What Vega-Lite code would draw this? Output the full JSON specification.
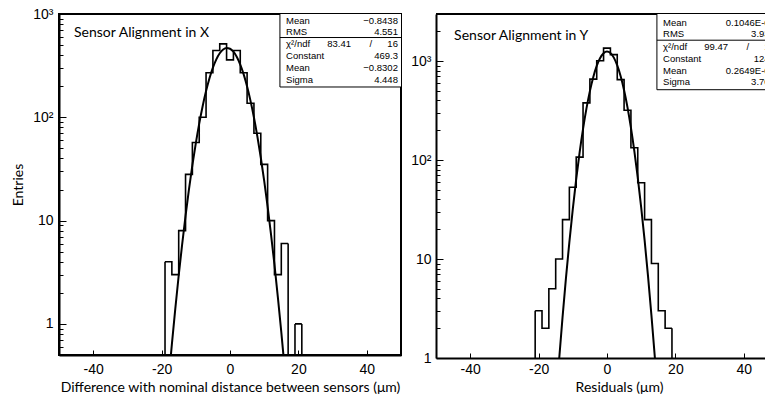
{
  "$schema": "https://vega.github.io/schema/vega-lite/v6.json",
  "background": "white",
  "padding": {"left": 10, "top": 6, "right": 0, "bottom": 0},
  "bounds": "flush",
  "spacing": 35,
  "config": {
    "view": {"stroke": "black", "strokeWidth": 2},
    "axis": {
      "grid": false,
      "domainColor": "black",
      "domainWidth": 2,
      "tickColor": "black",
      "tickWidth": 1,
      "labelColor": "black",
      "labelFont": "Liberation Sans",
      "labelFontSize": 14,
      "titleColor": "black",
      "titleFont": "Lato",
      "titleFontSize": 14,
      "titleFontWeight": "normal"
    },
    "text": {"font": "Liberation Sans", "fontSize": 9.5, "color": "black"}
  },
  "datasets": {
    "left_bins": [
      {"lo": -19, "hi": -17, "y": 4},
      {"lo": -17, "hi": -15, "y": 3},
      {"lo": -15, "hi": -13, "y": 8},
      {"lo": -13, "hi": -11, "y": 28},
      {"lo": -11, "hi": -9, "y": 57},
      {"lo": -9, "hi": -7, "y": 100},
      {"lo": -7, "hi": -5, "y": 270},
      {"lo": -5, "hi": -3, "y": 444},
      {"lo": -3, "hi": -1, "y": 514},
      {"lo": -1, "hi": 1, "y": 360},
      {"lo": 1, "hi": 3, "y": 444},
      {"lo": 3, "hi": 5, "y": 270},
      {"lo": 5, "hi": 7, "y": 137},
      {"lo": 7, "hi": 9, "y": 70},
      {"lo": 9, "hi": 11, "y": 35},
      {"lo": 11, "hi": 13, "y": 10},
      {"lo": 13, "hi": 15, "y": 3},
      {"lo": 15, "hi": 17, "y": 6},
      {"lo": 17, "hi": 19, "y": null},
      {"lo": 19, "hi": 21, "y": 1}
    ],
    "right_bins": [
      {"lo": -21, "hi": -19, "y": 3},
      {"lo": -19, "hi": -17, "y": 2},
      {"lo": -17, "hi": -15, "y": 5},
      {"lo": -15, "hi": -13, "y": 10},
      {"lo": -13, "hi": -11, "y": 25},
      {"lo": -11, "hi": -9, "y": 53},
      {"lo": -9, "hi": -7, "y": 107},
      {"lo": -7, "hi": -5, "y": 378},
      {"lo": -5, "hi": -3, "y": 656},
      {"lo": -3, "hi": -1, "y": 1007},
      {"lo": -1, "hi": 1, "y": 1350},
      {"lo": 1, "hi": 3, "y": 1160},
      {"lo": 3, "hi": 5, "y": 648},
      {"lo": 5, "hi": 7, "y": 318},
      {"lo": 7, "hi": 9, "y": 133},
      {"lo": 9, "hi": 11, "y": 59},
      {"lo": 11, "hi": 13, "y": 25},
      {"lo": 13, "hi": 15, "y": 9},
      {"lo": 15, "hi": 17, "y": 3},
      {"lo": 17, "hi": 19, "y": 2}
    ],
    "left_fit": [
      {"x": -18, "y": 0.273}, {"x": -17, "y": 0.634}, {"x": -16, "y": 1.40}, {"x": -15, "y": 2.94},
      {"x": -14, "y": 5.86}, {"x": -13, "y": 11.11}, {"x": -12, "y": 20.05}, {"x": -11, "y": 34.4},
      {"x": -10, "y": 56.0}, {"x": -9, "y": 86.9}, {"x": -8, "y": 128.0}, {"x": -7, "y": 179.3},
      {"x": -6, "y": 238.8}, {"x": -5, "y": 302.4}, {"x": -4, "y": 364.1}, {"x": -3, "y": 416.7},
      {"x": -2, "y": 453.3}, {"x": -1, "y": 469.0}, {"x": 0, "y": 461.2}, {"x": 1, "y": 431.2},
      {"x": 2, "y": 383.3}, {"x": 3, "y": 323.9}, {"x": 4, "y": 260.2}, {"x": 5, "y": 198.8},
      {"x": 6, "y": 144.3}, {"x": 7, "y": 99.7}, {"x": 8, "y": 65.4}, {"x": 9, "y": 40.8},
      {"x": 10, "y": 24.2}, {"x": 11, "y": 13.66}, {"x": 12, "y": 7.33}, {"x": 13, "y": 3.74},
      {"x": 14, "y": 1.81}, {"x": 15, "y": 0.834}, {"x": 16, "y": 0.365}, {"x": 17, "y": 0.152}
    ],
    "right_fit": [
      {"x": -15, "y": 0.332}, {"x": -14, "y": 0.959}, {"x": -13, "y": 2.571}, {"x": -12, "y": 6.41},
      {"x": -11, "y": 14.84}, {"x": -10, "y": 31.96}, {"x": -9, "y": 64.0}, {"x": -8, "y": 119.2},
      {"x": -7, "y": 206.2}, {"x": -6, "y": 331.9}, {"x": -5, "y": 496.5}, {"x": -4, "y": 690.6},
      {"x": -3, "y": 893.1}, {"x": -2, "y": 1073.7}, {"x": -1, "y": 1200.0}, {"x": 0, "y": 1247.0},
      {"x": 1, "y": 1204.7}, {"x": 2, "y": 1082.0}, {"x": 3, "y": 903.5}, {"x": 4, "y": 701.4},
      {"x": 5, "y": 506.3}, {"x": 6, "y": 339.7}, {"x": 7, "y": 212.0}, {"x": 8, "y": 122.9},
      {"x": 9, "y": 66.3}, {"x": 10, "y": 33.23}, {"x": 11, "y": 15.49}, {"x": 12, "y": 6.71},
      {"x": 13, "y": 2.70}, {"x": 14, "y": 1.012}, {"x": 15, "y": 0.352}
    ]
  },
  "hconcat": [
    {
      "width": 342,
      "height": 341,
      "layer": [
        {
          "data": {"name": "left_bins"},
          "transform": [{"fold": ["lo", "hi"], "as": ["edge", "x"]}],
          "mark": {"type": "line", "color": "black", "strokeWidth": 1.6, "clip": true, "invalid": "break-paths-filter-domains"},
          "encoding": {
            "x": {
              "field": "x", "type": "quantitative",
              "scale": {"domain": [-50, 50], "nice": false, "zero": false},
              "axis": {
                "values": [-40, -20, 0, 20, 40],
                "labelExpr": "replace(datum.label, '−', '-')",
                "tickSize": -5,
                "labelPadding": 12,
                "labelFlush": false,
                "title": "Difference with nominal distance between sensors (μm)",
                "titlePadding": 4
              }
            },
            "y": {
              "field": "y", "type": "quantitative",
              "scale": {"type": "log", "domain": [0.5, 1000], "nice": false},
              "axis": {
                "values": [0.6, 0.7, 0.8, 0.9, 1, 2, 3, 4, 5, 6, 7, 8, 9, 10, 20, 30, 40, 50, 60, 70, 80, 90, 100, 200, 300, 400, 500, 600, 700, 800, 900, 1000],
                "labelExpr": "datum.value == 1 ? '1' : datum.value == 10 ? '10' : datum.value == 100 ? '10²' : datum.value == 1000 ? '10³' : ''",
                "tickSize": {"condition": {"test": "datum.value == 1 || datum.value == 10 || datum.value == 100 || datum.value == 1000", "value": -7}, "value": -4},
                "labelPadding": 13,
                "labelOverlap": false,
                "labelBound": false,
                "title": "Entries",
                "titlePadding": 5,
                "minExtent": 29,
                "maxExtent": 29
              }
            },
            "order": [{"field": "lo", "type": "quantitative"}, {"field": "edge", "type": "ordinal", "sort": "descending"}]
          }
        },
        {
          "data": {"name": "left_bins"},
          "transform": [
            {"window": [{"op": "lag", "field": "y", "as": "prev"}], "sort": [{"field": "lo", "order": "ascending"}]},
            {"filter": "datum.y > 0 && !(datum.prev > 0)"}
          ],
          "mark": {"type": "rule", "color": "black", "strokeWidth": 1.6, "clip": true},
          "encoding": {
            "x": {"field": "lo", "type": "quantitative"},
            "y": {"field": "y", "type": "quantitative"},
            "y2": {"datum": 0.5}
          }
        },
        {
          "data": {"name": "left_bins"},
          "transform": [
            {"window": [{"op": "lead", "field": "y", "as": "next"}], "sort": [{"field": "lo", "order": "ascending"}]},
            {"filter": "datum.y > 0 && !(datum.next > 0)"}
          ],
          "mark": {"type": "rule", "color": "black", "strokeWidth": 1.6, "clip": true},
          "encoding": {
            "x": {"field": "hi", "type": "quantitative"},
            "y": {"field": "y", "type": "quantitative"},
            "y2": {"datum": 0.5}
          }
        },
        {
          "data": {"name": "left_fit"},
          "mark": {"type": "line", "color": "black", "strokeWidth": 2, "clip": true, "interpolate": "monotone"},
          "encoding": {
            "x": {"field": "x", "type": "quantitative"},
            "y": {"field": "y", "type": "quantitative"}
          }
        },
        {
          "data": {"values": [{}]},
          "mark": {"type": "text", "text": "Sensor Alignment in X", "font": "Lato", "fontSize": 14, "align": "left", "baseline": "middle"},
          "encoding": {"x": {"datum": -45.6}, "y": {"datum": 655}}
        },
        {
          "data": {"values": [{}]},
          "mark": {"type": "rect", "fill": "white", "stroke": "black", "strokeWidth": 1, "clip": true},
          "encoding": {"x": {"datum": 14.6}, "x2": {"datum": 52}, "y": {"datum": 196.5}, "y2": {"datum": 1100}}
        },
        {
          "data": {"values": [{}]},
          "mark": {"type": "rule", "color": "black", "strokeWidth": 1, "clip": true},
          "encoding": {"x": {"datum": 14.6}, "x2": {"datum": 52}, "y": {"datum": 592}}
        },
        {
          "data": {"values": [{}]},
          "mark": {"type": "text", "text": ["Mean", "RMS"], "lineHeight": 11, "align": "left", "baseline": "alphabetic"},
          "encoding": {"x": {"datum": 16.4}, "y": {"datum": 809}}
        },
        {
          "data": {"values": [{}]},
          "mark": {"type": "text", "text": ["−0.8438", "4.551"], "lineHeight": 11, "align": "right", "baseline": "alphabetic"},
          "encoding": {"x": {"datum": 49.1}, "y": {"datum": 809}}
        },
        {
          "data": {"values": [{}]},
          "mark": {"type": "text", "text": ["χ²/ndf", "Constant", "Mean", "Sigma"], "lineHeight": 11.7, "align": "left", "baseline": "alphabetic"},
          "encoding": {"x": {"datum": 16.4}, "y": {"datum": 474}}
        },
        {
          "data": {"values": [{}]},
          "mark": {"type": "text", "text": ["16", "469.3", "−0.8302", "4.448"], "lineHeight": 11.7, "align": "right", "baseline": "alphabetic"},
          "encoding": {"x": {"datum": 49.1}, "y": {"datum": 474}}
        },
        {
          "data": {"values": [{}]},
          "mark": {"type": "text", "text": "83.41", "align": "right", "baseline": "alphabetic"},
          "encoding": {"x": {"datum": 35.4}, "y": {"datum": 474}}
        },
        {
          "data": {"values": [{}]},
          "mark": {"type": "text", "text": "/", "align": "center", "baseline": "alphabetic"},
          "encoding": {"x": {"datum": 41.2}, "y": {"datum": 474}}
        }
      ]
    },
    {
      "width": 330,
      "height": 344,
      "view": {"stroke": null},
      "layer": [
        {
          "data": {"name": "right_bins"},
          "transform": [{"fold": ["lo", "hi"], "as": ["edge", "x"]}],
          "mark": {"type": "line", "color": "black", "strokeWidth": 1.6, "clip": true, "invalid": "break-paths-filter-domains"},
          "encoding": {
            "x": {
              "field": "x", "type": "quantitative",
              "scale": {"domain": [-50, 46.5], "nice": false, "zero": false},
              "axis": {
                "values": [-40, -20, 0, 20, 40],
                "labelExpr": "replace(datum.label, '−', '-')",
                "tickSize": -5,
                "labelPadding": 9,
                "labelFlush": false,
                "title": "Residuals (μm)",
                "titleX": 183,
                "titlePadding": 4
              }
            },
            "y": {
              "field": "y", "type": "quantitative",
              "scale": {"type": "log", "domain": [1, 2985], "nice": false},
              "axis": {
                "values": [1, 2, 3, 4, 5, 6, 7, 8, 9, 10, 20, 30, 40, 50, 60, 70, 80, 90, 100, 200, 300, 400, 500, 600, 700, 800, 900, 1000, 2000],
                "labelExpr": "datum.value == 1 ? '1' : datum.value == 10 ? '10' : datum.value == 100 ? '10²' : datum.value == 1000 ? '10³' : ''",
                "tickSize": {"condition": {"test": "datum.value == 1 || datum.value == 10 || datum.value == 100 || datum.value == 1000", "value": -7}, "value": -4},
                "labelPadding": 12,
                "labelOverlap": false,
                "labelBound": false,
                "title": "",
                "minExtent": 27,
                "maxExtent": 27
              }
            },
            "order": [{"field": "lo", "type": "quantitative"}, {"field": "edge", "type": "ordinal", "sort": "descending"}]
          }
        },
        {
          "data": {"name": "right_bins"},
          "transform": [
            {"window": [{"op": "lag", "field": "y", "as": "prev"}], "sort": [{"field": "lo", "order": "ascending"}]},
            {"filter": "datum.y > 0 && !(datum.prev > 0)"}
          ],
          "mark": {"type": "rule", "color": "black", "strokeWidth": 1.6, "clip": true},
          "encoding": {
            "x": {"field": "lo", "type": "quantitative"},
            "y": {"field": "y", "type": "quantitative"},
            "y2": {"datum": 1}
          }
        },
        {
          "data": {"name": "right_bins"},
          "transform": [
            {"window": [{"op": "lead", "field": "y", "as": "next"}], "sort": [{"field": "lo", "order": "ascending"}]},
            {"filter": "datum.y > 0 && !(datum.next > 0)"}
          ],
          "mark": {"type": "rule", "color": "black", "strokeWidth": 1.6, "clip": true},
          "encoding": {
            "x": {"field": "hi", "type": "quantitative"},
            "y": {"field": "y", "type": "quantitative"},
            "y2": {"datum": 1}
          }
        },
        {
          "data": {"name": "right_fit"},
          "mark": {"type": "line", "color": "black", "strokeWidth": 2, "clip": true, "interpolate": "monotone"},
          "encoding": {
            "x": {"field": "x", "type": "quantitative"},
            "y": {"field": "y", "type": "quantitative"}
          }
        },
        {
          "data": {"values": [{}]},
          "mark": {"type": "rule", "color": "black", "strokeWidth": 2},
          "encoding": {"y": {"datum": 2985}}
        },
        {
          "data": {"values": [{}]},
          "mark": {"type": "text", "text": "Sensor Alignment in Y", "font": "Lato", "fontSize": 14, "align": "left", "baseline": "middle"},
          "encoding": {"x": {"datum": -44.7}, "y": {"datum": 1801}}
        },
        {
          "data": {"values": [{}]},
          "mark": {"type": "rect", "fill": "white", "stroke": "black", "strokeWidth": 1, "clip": true},
          "encoding": {"x": {"datum": 14.6}, "x2": {"datum": 52}, "y": {"datum": 513}, "y2": {"datum": 3200}}
        },
        {
          "data": {"values": [{}]},
          "mark": {"type": "rule", "color": "black", "strokeWidth": 1, "clip": true},
          "encoding": {"x": {"datum": 14.6}, "x2": {"datum": 52}, "y": {"datum": 1623}}
        },
        {
          "data": {"values": [{}]},
          "mark": {"type": "text", "text": ["Mean", "RMS"], "lineHeight": 11, "align": "left", "baseline": "alphabetic"},
          "encoding": {"x": {"datum": 16.4}, "y": {"datum": 2246}}
        },
        {
          "data": {"values": [{}]},
          "mark": {"type": "text", "text": ["0.1046E-01", "3.935"], "lineHeight": 11, "align": "right", "baseline": "alphabetic", "clip": true},
          "encoding": {"x": {"datum": 49.1}, "y": {"datum": 2246}}
        },
        {
          "data": {"values": [{}]},
          "mark": {"type": "text", "text": ["χ²/ndf", "Constant", "Mean", "Sigma"], "lineHeight": 11.7, "align": "left", "baseline": "alphabetic"},
          "encoding": {"x": {"datum": 16.4}, "y": {"datum": 1286}}
        },
        {
          "data": {"values": [{}]},
          "mark": {"type": "text", "text": ["17", "1247", "0.2649E-01", "3.704"], "lineHeight": 11.7, "align": "right", "baseline": "alphabetic", "clip": true},
          "encoding": {"x": {"datum": 49.1}, "y": {"datum": 1286}}
        },
        {
          "data": {"values": [{}]},
          "mark": {"type": "text", "text": "99.47", "align": "right", "baseline": "alphabetic"},
          "encoding": {"x": {"datum": 35.4}, "y": {"datum": 1286}}
        },
        {
          "data": {"values": [{}]},
          "mark": {"type": "text", "text": "/", "align": "center", "baseline": "alphabetic"},
          "encoding": {"x": {"datum": 41.2}, "y": {"datum": 1286}}
        }
      ]
    }
  ]
}
